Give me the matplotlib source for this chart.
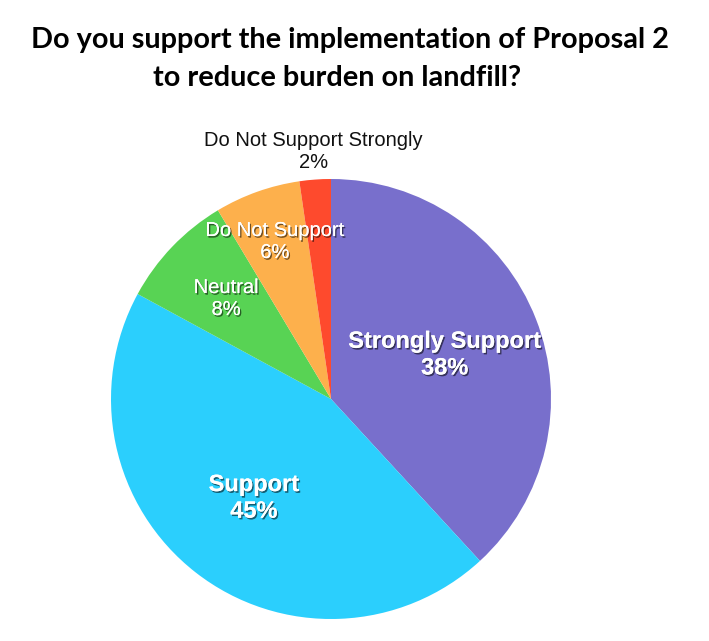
import numpy as np
import matplotlib.pyplot as plt
import matplotlib.patheffects as pe

# slices, clockwise from 12 o'clock
categories = ["Strongly Support", "Support", "Neutral", "Do Not Support", "Do Not Support Strongly"]
shares = [38.2, 44.8, 8.5, 6.3, 2.3]
pct_labels = ["38%", "45%", "8%", "6%", "2%"]
title_lines = ["Do you support the implementation of Proposal 2", "to reduce burden on landfill?"]

COLORS = ["#786FCC", "#2BCFFD", "#58D354", "#FDB04C", "#FE4A2D"]
LABEL_DIST = [0.555, 0.57, 0.66, 0.76, 1.13]
LABEL_SIZE = [17, 17, 14.5, 14.5, 14.5]
LABEL_BOLD = [True, True, False, False, False]
LABEL_COLOR = ["white", "white", "white", "white", "#111111"]

W, H = 709, 641
CX, CY, R = 331, H - 399, 220

fig = plt.figure(figsize=(W / 100, H / 100), dpi=100)
fig.patch.set_facecolor("white")
ax = fig.add_axes([0, 0, 1, 1])

wedges, _ = ax.pie(
    shares,
    colors=COLORS,
    startangle=90,
    counterclock=False,
    center=(CX, CY),
    radius=R,
    wedgeprops=dict(linewidth=0),
    frame=True,
)
ax.set_xlim(0, W)
ax.set_ylim(0, H)
ax.set_aspect("equal")
ax.set_axis_off()

shadow = [pe.withSimplePatchShadow(offset=(1, -1.2), shadow_rgbFace="black", alpha=0.55), pe.Normal()]

for i, w in enumerate(wedges):
    mid = np.deg2rad((w.theta1 + w.theta2) / 2)
    x = CX + LABEL_DIST[i] * R * np.cos(mid)
    y = CY + LABEL_DIST[i] * R * np.sin(mid)
    t = ax.text(
        x, y,
        categories[i] + "\n" + pct_labels[i],
        ha="center",
        va="center",
        fontsize=LABEL_SIZE[i],
        weight="bold" if LABEL_BOLD[i] else "normal",
        color=LABEL_COLOR[i],
        family="Liberation Sans",
        linespacing=1.2,
    )
    if LABEL_COLOR[i] == "white":
        t.set_path_effects(shadow)

# title, two lines set separately (second line sits a bit left)
ax.text(350, H - 40, title_lines[0], ha="center", va="center",
        fontsize=20.8, weight="bold", family="Lato", color="black")
ax.text(337, H - 78, title_lines[1], ha="center", va="center",
        fontsize=20.8, weight="bold", family="Lato", color="black")

fig.savefig("out.png", dpi=100)
